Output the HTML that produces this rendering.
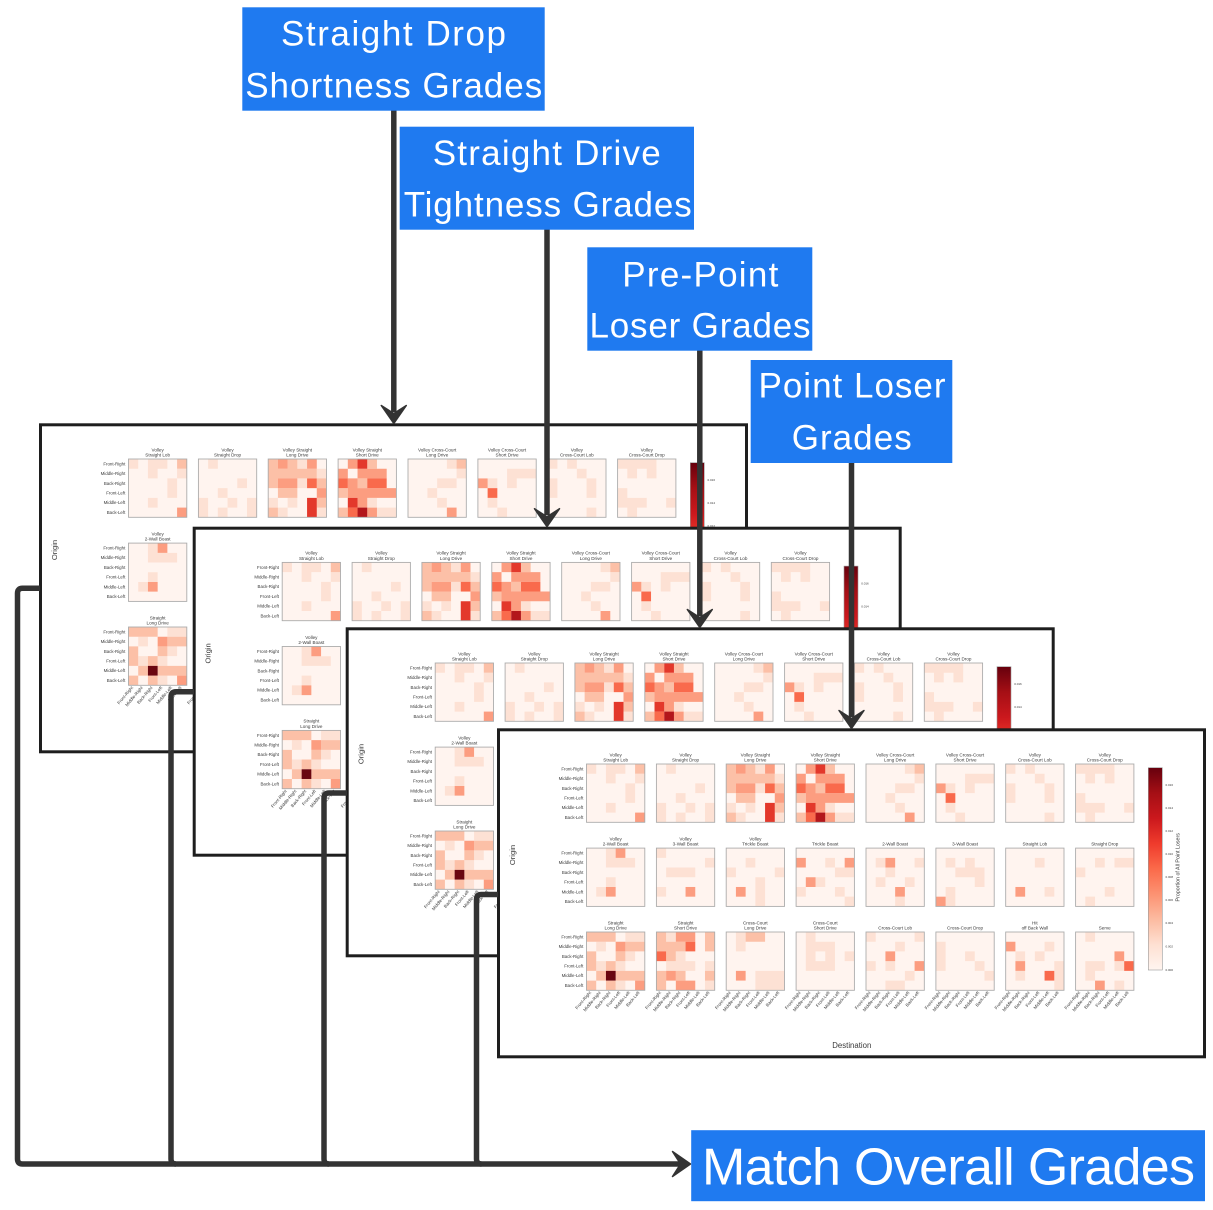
<!DOCTYPE html>
<html>
<head>
<meta charset="utf-8">
<style>
html,body{margin:0;padding:0;background:#fff;}
svg{display:block;}
</style>
</head>
<body>
<svg width="1213" height="1210" viewBox="0 0 1213 1210" xmlns="http://www.w3.org/2000/svg" xmlns:xlink="http://www.w3.org/1999/xlink">
<defs>
<style>
.k1{fill:#fde1d4}.k2{fill:#fcc0a7}.k3{fill:#fc9d80}.k4{fill:#f96a4c}.k5{fill:#e3382b}.k6{fill:#b3161b}.k7{fill:#6a0610}
.bg{fill:#fff4ef}.bd{fill:none;stroke:#aaa;stroke-width:.09}
.t{font-family:"Liberation Sans",sans-serif;fill:#3a3a3a}
.lb{font-family:"Liberation Sans",sans-serif;fill:#fff;font-size:35px}
</style>
<linearGradient id="cb" x1="0" y1="0" x2="0" y2="1">
<stop offset="0" stop-color="#67000d"/>
<stop offset="0.125" stop-color="#a50f15"/>
<stop offset="0.25" stop-color="#cb181d"/>
<stop offset="0.375" stop-color="#ef3b2c"/>
<stop offset="0.5" stop-color="#fb6a4a"/>
<stop offset="0.625" stop-color="#fc9272"/>
<stop offset="0.75" stop-color="#fcbba1"/>
<stop offset="0.875" stop-color="#fee0d2"/>
<stop offset="1" stop-color="#fff5f0"/>
</linearGradient>

<g id="h0"><rect class="bg" width="6" height="6"/>
<path class="k1" d="M0 0h1v1h-1zM2 0h1v1h-1zM3 0h1v1h-1zM2 1h1v1h-1zM5 1h1v1h-1zM4 2h1v1h-1zM4 3h1v1h-1zM2 4h1v1h-1z"/>
<path class="k2" d="M5 0h1v1h-1z"/><path class="k3" d="M5 5h1v1h-1z"/>
<rect class="bd" width="6" height="6"/></g>

<g id="h1"><rect class="bg" width="6" height="6"/>
<path class="k1" d="M1 0h1v1h-1zM4 2h1v1h-1zM2 3h1v1h-1zM0 4h1v1h-1zM3 4h1v1h-1zM5 4h1v1h-1zM0 5h1v1h-1zM2 5h1v1h-1zM5 5h1v1h-1z"/>
<rect class="bd" width="6" height="6"/></g>

<g id="h2"><rect class="bg" width="6" height="6"/>
<path class="k1" d="M3 0h1v1h-1zM5 1h1v1h-1zM3 2h1v1h-1zM0 4h1v1h-1zM2 4h1v1h-1zM1 5h1v1h-1zM5 5h1v1h-1z"/>
<path class="k2" d="M0 0h1v1h-1zM2 0h1v1h-1zM0 1h1v1h-1zM1 1h1v1h-1zM2 1h1v1h-1zM3 1h1v1h-1zM4 1h1v1h-1zM0 2h1v1h-1zM5 2h1v1h-1zM1 3h1v1h-1zM2 3h1v1h-1zM5 4h1v1h-1zM0 5h1v1h-1z"/>
<path class="k3" d="M1 0h1v1h-1zM4 0h1v1h-1zM1 2h1v1h-1zM2 2h1v1h-1zM5 3h1v1h-1z"/>
<path class="k4" d="M4 2h1v1h-1z"/>
<path class="k5" d="M4 4h1v1h-1zM4 5h1v1h-1z"/>
<rect class="bd" width="6" height="6"/></g>

<g id="h3"><rect class="bg" width="6" height="6"/>
<path class="k1" d="M3 4h1v1h-1zM4 5h1v1h-1zM5 5h1v1h-1z"/>
<path class="k2" d="M3 0h1v1h-1zM2 2h1v1h-1zM0 3h1v1h-1zM0 5h1v1h-1z"/>
<path class="k3" d="M1 0h1v1h-1zM0 1h1v1h-1zM2 1h1v1h-1zM3 1h1v1h-1zM4 1h1v1h-1zM1 2h1v1h-1zM1 3h1v1h-1zM2 3h1v1h-1zM3 3h1v1h-1zM4 3h1v1h-1zM5 3h1v1h-1zM2 4h1v1h-1zM3 5h1v1h-1z"/>
<path class="k4" d="M0 2h1v1h-1zM3 2h1v1h-1zM4 2h1v1h-1zM1 5h1v1h-1z"/>
<path class="k5" d="M2 0h1v1h-1zM1 4h1v1h-1z"/>
<path class="k6" d="M2 5h1v1h-1z"/>
<rect class="bd" width="6" height="6"/></g>

<g id="h4"><rect class="bg" width="6" height="6"/>
<path class="k1" d="M4 0h1v1h-1zM5 1h1v1h-1zM3 2h1v1h-1zM4 2h1v1h-1zM2 3h1v1h-1zM3 4h1v1h-1z"/>
<path class="k2" d="M5 0h1v1h-1z"/><path class="k3" d="M4 5h1v1h-1z"/>
<rect class="bd" width="6" height="6"/></g>

<g id="h5"><rect class="bg" width="6" height="6"/>
<path class="k1" d="M3 1h1v1h-1zM4 1h1v1h-1zM5 1h1v1h-1zM1 2h1v1h-1zM3 2h1v1h-1zM1 4h1v1h-1zM2 5h1v1h-1z"/>
<path class="k3" d="M0 2h1v1h-1z"/><path class="k4" d="M1 3h1v1h-1z"/>
<rect class="bd" width="6" height="6"/></g>

<g id="h6"><rect class="bg" width="6" height="6"/>
<path class="k1" d="M0 0h1v1h-1zM2 0h1v1h-1zM3 1h1v1h-1zM0 2h1v1h-1zM4 2h1v1h-1zM0 3h1v1h-1zM4 3h1v1h-1zM4 5h1v1h-1z"/>
<rect class="bd" width="6" height="6"/></g>

<g id="h7"><rect class="bg" width="6" height="6"/>
<path class="k1" d="M0 0h1v1h-1zM1 0h1v1h-1zM2 0h1v1h-1zM3 0h1v1h-1zM1 1h1v1h-1zM3 1h1v1h-1zM0 3h1v1h-1zM0 4h1v1h-1zM1 4h1v1h-1zM2 4h1v1h-1zM5 4h1v1h-1zM1 5h1v1h-1z"/>
<rect class="bd" width="6" height="6"/></g>

<g id="h8"><rect class="bg" width="6" height="6"/>
<path class="k1" d="M2 0h1v1h-1zM2 1h1v1h-1zM3 1h1v1h-1zM4 1h1v1h-1zM2 3h1v1h-1zM1 4h1v1h-1z"/>
<path class="k3" d="M3 0h1v1h-1zM2 4h1v1h-1z"/>
<rect class="bd" width="6" height="6"/></g>

<g id="h9"><rect class="bg" width="6" height="6"/>
<path class="k1" d="M0 0h1v1h-1zM5 1h1v1h-1zM1 2h1v1h-1zM2 2h1v1h-1zM3 2h1v1h-1zM0 4h1v1h-1z"/>
<path class="k3" d="M3 4h1v1h-1z"/>
<rect class="bd" width="6" height="6"/></g>

<g id="h10"><rect class="bg" width="6" height="6"/>
<path class="k1" d="M2 1h1v1h-1zM0 2h1v1h-1zM5 2h1v1h-1zM3 3h1v1h-1zM3 4h1v1h-1zM3 5h1v1h-1z"/>
<path class="k3" d="M1 4h1v1h-1z"/>
<rect class="bd" width="6" height="6"/></g>

<g id="h11"><rect class="bg" width="6" height="6"/>
<path class="k1" d="M3 1h1v1h-1zM4 2h1v1h-1zM5 2h1v1h-1zM2 3h1v1h-1zM0 4h1v1h-1zM4 4h1v1h-1zM5 5h1v1h-1z"/>
<path class="k3" d="M0 1h1v1h-1zM5 1h1v1h-1zM1 3h1v1h-1z"/>
<rect class="bd" width="6" height="6"/></g>

<g id="h12"><rect class="bg" width="6" height="6"/>
<path class="k1" d="M1 1h1v1h-1zM5 1h1v1h-1zM2 2h1v1h-1zM1 3h1v1h-1zM4 3h1v1h-1zM3 5h1v1h-1z"/>
<path class="k3" d="M2 1h1v1h-1zM3 4h1v1h-1z"/>
<rect class="bd" width="6" height="6"/></g>

<g id="h13"><rect class="bg" width="6" height="6"/>
<path class="k1" d="M1 1h1v1h-1zM3 1h1v1h-1zM2 2h1v1h-1zM3 2h1v1h-1zM4 2h1v1h-1zM4 3h1v1h-1zM1 4h1v1h-1zM1 5h1v1h-1z"/>
<path class="k3" d="M0 5h1v1h-1z"/>
<rect class="bd" width="6" height="6"/></g>

<g id="h14"><rect class="bg" width="6" height="6"/>
<path class="k1" d="M3 1h1v1h-1zM4 4h1v1h-1z"/>
<path class="k3" d="M1 4h1v1h-1z"/>
<rect class="bd" width="6" height="6"/></g>

<g id="h15"><rect class="bg" width="6" height="6"/>
<path class="k1" d="M2 1h1v1h-1zM4 1h1v1h-1zM5 1h1v1h-1zM0 2h1v1h-1zM3 4h1v1h-1zM1 5h1v1h-1z"/>
<rect class="bd" width="6" height="6"/></g>

<g id="h16"><rect class="bg" width="6" height="6"/>
<path class="k1" d="M4 0h1v1h-1zM5 0h1v1h-1zM1 1h1v1h-1zM4 2h1v1h-1zM1 3h1v1h-1zM3 3h1v1h-1zM3 5h1v1h-1z"/>
<path class="k2" d="M0 0h1v1h-1zM1 0h1v1h-1zM2 0h1v1h-1zM4 1h1v1h-1zM5 1h1v1h-1zM0 2h1v1h-1zM3 2h1v1h-1zM0 3h1v1h-1zM2 3h1v1h-1zM1 4h1v1h-1zM3 4h1v1h-1zM4 4h1v1h-1zM5 4h1v1h-1zM0 5h1v1h-1zM2 5h1v1h-1z"/>
<path class="k3" d="M3 1h1v1h-1zM5 5h1v1h-1z"/>
<path class="k7" d="M2 4h1v1h-1z"/>
<rect class="bd" width="6" height="6"/></g>

<g id="h17"><rect class="bg" width="6" height="6"/>
<path class="k1" d="M1 0h1v1h-1zM2 2h1v1h-1zM1 3h1v1h-1zM2 3h1v1h-1zM3 3h1v1h-1zM5 3h1v1h-1zM5 5h1v1h-1z"/>
<path class="k2" d="M0 0h1v1h-1zM5 0h1v1h-1zM0 1h1v1h-1zM1 1h1v1h-1zM2 1h1v1h-1zM5 1h1v1h-1zM1 2h1v1h-1zM0 4h1v1h-1zM2 4h1v1h-1zM5 4h1v1h-1zM0 5h1v1h-1z"/>
<path class="k3" d="M2 0h1v1h-1zM3 0h1v1h-1zM1 4h1v1h-1zM2 5h1v1h-1zM3 5h1v1h-1z"/>
<path class="k4" d="M3 1h1v1h-1zM0 2h1v1h-1z"/>
<rect class="bd" width="6" height="6"/></g>

<g id="h18"><rect class="bg" width="6" height="6"/>
<path class="k1" d="M1 0h1v1h-1zM1 1h1v1h-1zM3 4h1v1h-1zM4 4h1v1h-1zM5 4h1v1h-1zM3 5h1v1h-1zM4 5h1v1h-1zM5 5h1v1h-1z"/>
<path class="k2" d="M2 0h1v1h-1zM3 0h1v1h-1z"/>
<path class="k3" d="M1 4h1v1h-1z"/>
<rect class="bd" width="6" height="6"/></g>

<g id="h19"><rect class="bg" width="6" height="6"/>
<path class="k1" d="M1 0h1v1h-1zM1 1h1v1h-1zM2 1h1v1h-1zM3 1h1v1h-1zM1 2h1v1h-1zM3 2h1v1h-1zM5 2h1v1h-1zM1 3h1v1h-1zM2 3h1v1h-1zM3 3h1v1h-1z"/>
<rect class="bd" width="6" height="6"/></g>

<g id="h20"><rect class="bg" width="6" height="6"/>
<path class="k1" d="M0 0h1v1h-1zM5 0h1v1h-1zM3 1h1v1h-1zM0 3h1v1h-1zM2 3h1v1h-1zM4 4h1v1h-1zM2 5h1v1h-1zM3 5h1v1h-1z"/>
<path class="k3" d="M2 2h1v1h-1zM5 3h1v1h-1z"/>
<rect class="bd" width="6" height="6"/></g>

<g id="h21"><rect class="bg" width="6" height="6"/>
<path class="k1" d="M0 1h1v1h-1zM0 2h1v1h-1zM3 2h1v1h-1zM0 3h1v1h-1zM4 3h1v1h-1zM5 4h1v1h-1z"/>
<rect class="bd" width="6" height="6"/></g>

<g id="h22"><rect class="bg" width="6" height="6"/>
<path class="k1" d="M4 1h1v1h-1zM1 2h1v1h-1zM3 2h1v1h-1zM5 3h1v1h-1zM1 4h1v1h-1zM5 4h1v1h-1zM5 5h1v1h-1z"/>
<path class="k3" d="M0 1h1v1h-1zM1 3h1v1h-1z"/>
<path class="k4" d="M4 4h1v1h-1z"/>
<rect class="bd" width="6" height="6"/></g>

<g id="h23"><rect class="bg" width="6" height="6"/>
<path class="k1" d="M1 0h1v1h-1zM1 3h1v1h-1zM2 3h1v1h-1zM4 3h1v1h-1zM1 4h1v1h-1zM4 5h1v1h-1z"/>
<path class="k3" d="M4 2h1v1h-1zM2 5h1v1h-1z"/>
<path class="k4" d="M5 3h1v1h-1z"/>
<rect class="bd" width="6" height="6"/></g>

<g id="rl" class="t" font-size="4.4" text-anchor="end">
<text x="86.3" y="6.4">Front-Right</text>
<text x="86.3" y="16.1">Middle-Right</text>
<text x="86.3" y="25.8">Back-Right</text>
<text x="86.3" y="35.5">Front-Left</text>
<text x="86.3" y="45.2">Middle-Left</text>
<text x="86.3" y="55">Back-Left</text>
</g>

<g id="xt" class="t" font-size="4.4" text-anchor="end">
<text transform="translate(4.86,264.5) rotate(-50)">Front-Right</text>
<text transform="translate(14.58,264.5) rotate(-50)">Middle-Right</text>
<text transform="translate(24.3,264.5) rotate(-50)">Back-Right</text>
<text transform="translate(34.02,264.5) rotate(-50)">Front-Left</text>
<text transform="translate(43.74,264.5) rotate(-50)">Middle-Left</text>
<text transform="translate(53.46,264.5) rotate(-50)">Back-Left</text>
</g>

<g id="pc">
<use href="#h0" transform="translate(89.5,35.7) scale(9.717)"/>
<use href="#h1" transform="translate(159.4,35.7) scale(9.717)"/>
<use href="#h2" transform="translate(229.2,35.7) scale(9.717)"/>
<use href="#h3" transform="translate(299.1,35.7) scale(9.717)"/>
<use href="#h4" transform="translate(369,35.7) scale(9.717)"/>
<use href="#h5" transform="translate(438.9,35.7) scale(9.717)"/>
<use href="#h6" transform="translate(508.7,35.7) scale(9.717)"/>
<use href="#h7" transform="translate(578.6,35.7) scale(9.717)"/>
<use href="#h8" transform="translate(89.5,119.8) scale(9.717)"/>
<use href="#h9" transform="translate(159.4,119.8) scale(9.717)"/>
<use href="#h10" transform="translate(229.2,119.8) scale(9.717)"/>
<use href="#h11" transform="translate(299.1,119.8) scale(9.717)"/>
<use href="#h12" transform="translate(369,119.8) scale(9.717)"/>
<use href="#h13" transform="translate(438.9,119.8) scale(9.717)"/>
<use href="#h14" transform="translate(508.7,119.8) scale(9.717)"/>
<use href="#h15" transform="translate(578.6,119.8) scale(9.717)"/>
<use href="#h16" transform="translate(89.5,203.7) scale(9.717)"/>
<use href="#h17" transform="translate(159.4,203.7) scale(9.717)"/>
<use href="#h18" transform="translate(229.2,203.7) scale(9.717)"/>
<use href="#h19" transform="translate(299.1,203.7) scale(9.717)"/>
<use href="#h20" transform="translate(369,203.7) scale(9.717)"/>
<use href="#h21" transform="translate(438.9,203.7) scale(9.717)"/>
<use href="#h22" transform="translate(508.7,203.7) scale(9.717)"/>
<use href="#h23" transform="translate(578.6,203.7) scale(9.717)"/>

<use href="#rl" y="35.7"/>
<use href="#rl" y="119.8"/>
<use href="#rl" y="203.7"/>

<use href="#xt" x="89.5"/>
<use href="#xt" x="159.4"/>
<use href="#xt" x="229.2"/>
<use href="#xt" x="299.1"/>
<use href="#xt" x="369"/>
<use href="#xt" x="438.9"/>
<use href="#xt" x="508.7"/>
<use href="#xt" x="578.6"/>

<g class="t" font-size="4.6" text-anchor="middle">
<text x="118.65" y="28">Volley</text><text x="118.65" y="33.3">Straight Lob</text>
<text x="188.55" y="28">Volley</text><text x="188.55" y="33.3">Straight Drop</text>
<text x="258.35" y="28">Volley Straight</text><text x="258.35" y="33.3">Long Drive</text>
<text x="328.25" y="28">Volley Straight</text><text x="328.25" y="33.3">Short Drive</text>
<text x="398.15" y="28">Volley Cross-Court</text><text x="398.15" y="33.3">Long Drive</text>
<text x="468.05" y="28">Volley Cross-Court</text><text x="468.05" y="33.3">Short Drive</text>
<text x="537.85" y="28">Volley</text><text x="537.85" y="33.3">Cross-Court Lob</text>
<text x="607.75" y="28">Volley</text><text x="607.75" y="33.3">Cross-Court Drop</text>

<text x="118.65" y="112.1">Volley</text><text x="118.65" y="117.4">2-Wall Boast</text>
<text x="188.55" y="112.1">Volley</text><text x="188.55" y="117.4">3-Wall Boast</text>
<text x="258.35" y="112.1">Volley</text><text x="258.35" y="117.4">Trickle Boast</text>
<text x="328.25" y="117.4">Trickle Boast</text>
<text x="398.15" y="117.4">2-Wall Boast</text>
<text x="468.05" y="117.4">3-Wall Boast</text>
<text x="537.85" y="117.4">Straight Lob</text>
<text x="607.75" y="117.4">Straight Drop</text>

<text x="118.65" y="196">Straight</text><text x="118.65" y="201.3">Long Drive</text>
<text x="188.55" y="196">Straight</text><text x="188.55" y="201.3">Short Drive</text>
<text x="258.35" y="196">Cross-Court</text><text x="258.35" y="201.3">Long Drive</text>
<text x="328.25" y="196">Cross-Court</text><text x="328.25" y="201.3">Short Drive</text>
<text x="398.15" y="201.3">Cross-Court Lob</text>
<text x="468.05" y="201.3">Cross-Court Drop</text>
<text x="537.85" y="196">Hit</text><text x="537.85" y="201.3">off Back Wall</text>
<text x="607.75" y="201.3">Serve</text>
</g>

<rect x="651.3" y="39.4" width="14" height="202.3" fill="url(#cb)" stroke="#999" stroke-width="0.6"/>
<g class="t" font-size="3">
<text x="668.5" y="57.7">0.016</text>
<text x="668.5" y="80.7">0.014</text>
<text x="668.5" y="103.7">0.012</text>
<text x="668.5" y="126.7">0.010</text>
<text x="668.5" y="149.7">0.008</text>
<text x="668.5" y="172.7">0.006</text>
<text x="668.5" y="195.7">0.004</text>
<text x="668.5" y="219">0.002</text>
<text x="668.5" y="242.7">0.000</text>
</g>
<text class="t" font-size="5.3" text-anchor="middle" transform="translate(682.5,139) rotate(-90)">Proportion of All Point Losers</text>
<text class="t" font-size="7.6" text-anchor="middle" transform="translate(18,126.7) rotate(-90)">Origin</text>
<text class="t" font-size="7.8" text-anchor="middle" x="354.8" y="319.5">Destination</text>
</g>

<path id="ad" d="M0 0L-12.5-18L0-10L12.5-18Z"/>
<path id="ar" d="M0 0L-18-12.5L-10 0L-18 12.5Z"/>
</defs>

<rect width="1213" height="1210" fill="#fff"/>

<!-- Panels -->
<g transform="translate(39,423.3)">
<rect x="1.5" y="1.5" width="706" height="327" fill="#fff"/>
<use href="#pc"/>
<rect x="1.5" y="1.5" width="706" height="327" fill="none" stroke="#1e1e1e" stroke-width="3"/>
</g>
<g transform="translate(192.7,526.7)">
<rect x="1.5" y="1.5" width="706" height="327" fill="#fff"/>
<use href="#pc"/>
<rect x="1.5" y="1.5" width="706" height="327" fill="none" stroke="#1e1e1e" stroke-width="3"/>
</g>
<g transform="translate(345.7,627.3)">
<rect x="1.5" y="1.5" width="706" height="327" fill="#fff"/>
<use href="#pc"/>
<rect x="1.5" y="1.5" width="706" height="327" fill="none" stroke="#1e1e1e" stroke-width="3"/>
</g>
<g transform="translate(497,728.3)">
<rect x="1.5" y="1.5" width="706" height="327" fill="#fff"/>
<use href="#pc"/>
<rect x="1.5" y="1.5" width="706" height="327" fill="none" stroke="#1e1e1e" stroke-width="3"/>
</g>

<!-- Connectors -->
<g fill="none" stroke="#333" stroke-width="5.5" stroke-linejoin="round">
<path d="M393.8 110 V412"/>
<path d="M547 229 V515"/>
<path d="M699.8 350 V616"/>
<path d="M851.5 462 V717"/>
<path d="M40 588.3 H22.5 Q17.5 588.3 17.5 593.3 V1159 Q17.5 1164 22.5 1164 H680"/>
<path d="M194 691.7 H176 Q171 691.7 171 696.7 V1159 Q171 1164 176 1164"/>
<path d="M347 793 H329 Q324 793 324 798 V1159 Q324 1164 329 1164"/>
<path d="M498 894.5 H481.5 Q476.5 894.5 476.5 899.5 V1159 Q476.5 1164 481.5 1164"/>
</g>
<g fill="#333" stroke="#333" stroke-width="1.5" stroke-linejoin="round">
<use href="#ad" x="393.8" y="423.5"/>
<use href="#ad" x="547" y="526.7"/>
<use href="#ad" x="699.8" y="627.5"/>
<use href="#ad" x="851.5" y="728.5"/>
<use href="#ar" x="690.5" y="1164"/>
</g>

<!-- Labels -->
<rect x="242.3" y="7.3" width="302.4" height="103.4" fill="#1f7af0"/>
<text class="lb" x="393.5" y="45.7" text-anchor="middle" textLength="225" lengthAdjust="spacing">Straight Drop</text>
<text class="lb" x="393.7" y="97.7" text-anchor="middle" textLength="297" lengthAdjust="spacing">Shortness Grades</text>

<rect x="399.7" y="126.7" width="294.3" height="103" fill="#1f7af0"/>
<text class="lb" x="546.7" y="165" text-anchor="middle" textLength="228" lengthAdjust="spacing">Straight Drive</text>
<text class="lb" x="547.7" y="216.5" text-anchor="middle" textLength="288" lengthAdjust="spacing">Tightness Grades</text>

<rect x="587.3" y="247.3" width="225" height="103.4" fill="#1f7af0"/>
<text class="lb" x="700.3" y="286.7" text-anchor="middle" textLength="156" lengthAdjust="spacing">Pre-Point</text>
<text class="lb" x="700" y="337.7" text-anchor="middle" textLength="221" lengthAdjust="spacing">Loser Grades</text>

<rect x="750.7" y="360" width="201.6" height="103" fill="#1f7af0"/>
<text class="lb" x="852" y="397.7" text-anchor="middle" textLength="187" lengthAdjust="spacing">Point Loser</text>
<text class="lb" x="851.7" y="449.3" text-anchor="middle" textLength="120" lengthAdjust="spacing">Grades</text>

<rect x="691.2" y="1130.2" width="513.8" height="71" fill="#1f7af0"/>
<text x="948.5" y="1184.6" text-anchor="middle" textLength="493" lengthAdjust="spacing" font-family="Liberation Sans, sans-serif" font-size="52" fill="#fff">Match Overall Grades</text>
</svg>
</body>
</html>
